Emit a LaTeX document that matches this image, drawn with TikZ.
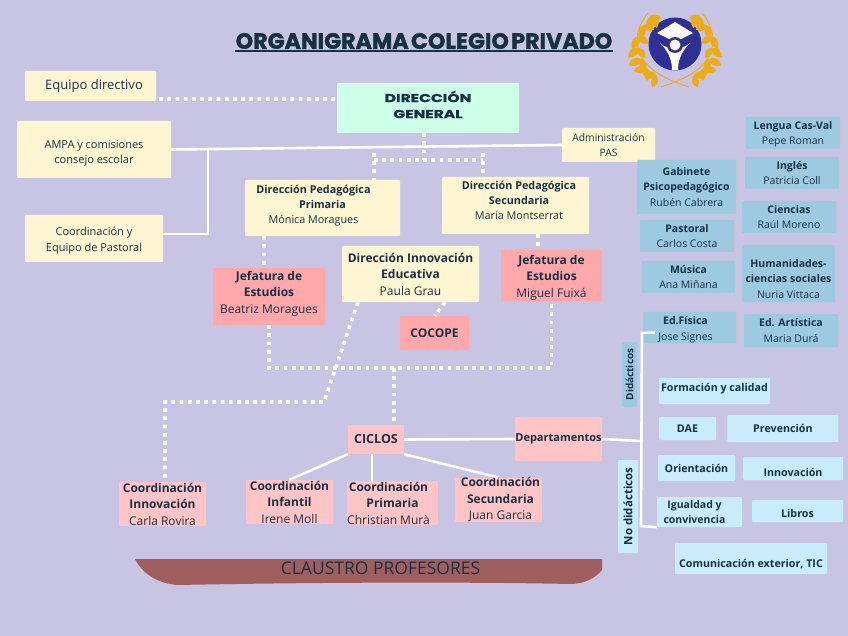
\documentclass[tikz,border=0pt]{standalone}
\usepackage{fontspec}
\setmainfont{Open Sans}
\newfontfamily\titlefont[WordSpace=0.5,BoldFeatures={FakeBold=1.6}]{Poppins}
\newfontfamily\widefont[FakeStretch=1.35,BoldFeatures={FakeBold=1.2}]{Poppins}
\usepackage{xcolor}
\usetikzlibrary{positioning,calc}
\definecolor{paperlilac}{RGB}{200,196,227}
\definecolor{inkblue}{RGB}{24,48,68}
\definecolor{creamy}{RGB}{254,246,210}
\definecolor{mintgreen}{RGB}{206,255,232}
\definecolor{salmon}{RGB}{255,168,171}
\definecolor{rosepink}{RGB}{255,196,198}
\definecolor{deptblue}{RGB}{158,202,223}
\definecolor{skyblue}{RGB}{200,236,252}
\definecolor{claustrored}{RGB}{160,94,94}
\definecolor{laurel}{RGB}{236,172,24}
\definecolor{shieldblue}{RGB}{46,48,146}
\tikzset{
  base/.style={align=center,inner sep=0pt,rounded corners=1pt,text=inkblue,
    font=\fontsize{11}{16}\selectfont},
  yellowbox/.style={base,fill=creamy},
  greenbox/.style={base,fill=mintgreen},
  redbox/.style={base,fill=salmon,font=\fontsize{12}{16.5}\selectfont},
  pinkbox/.style={base,fill=rosepink,font=\fontsize{12}{16.5}\selectfont},
  bluebox/.style={base,fill=deptblue,font=\fontsize{10.5}{15.5}\selectfont},
  skybox/.style={base,fill=skyblue,font=\fontsize{10.7}{15}\selectfont\bfseries},
  size/.style n args={2}{minimum width=#1pt,minimum height=#2pt},
  solidlink/.style={draw=white,line width=2.6pt},
  dotlink/.style={draw=white,line width=3.6pt,dash pattern=on 3.8pt off 4.4pt}
}
\newcommand{\dropdn}[1]{\rule{0pt}{\dimexpr 9pt+#1pt*2\relax}}
\newcommand{\liftup}[1]{\rule[-\dimexpr 3pt+#1pt*2\relax]{0pt}{0pt}}
\begin{document}
\begin{tikzpicture}[x=1pt,y=-1pt]
  \useasboundingbox[fill=paperlilac] (0,0) rectangle (848,636);
  % title and logo
  \node[inner sep=0pt,text=inkblue,font=\titlefont\fontsize{22.2}{24}\selectfont\bfseries] (title) at (424,41)
    {ORGANIGRAMA COLEGIO PRIVADO};
  \begin{scope}[shift={(675,44)},yscale=-1]
    \fill[shieldblue] (0,0) circle (26.5);
    \fill[white] (-18,11)--(0,22)--(18,11)--(0,2)--cycle;
    \fill[white] (-15,1) .. controls (-8,-6) and (-3,-14) .. (-3,-26) -- (3,-26)
      .. controls (3,-14) and (8,-6) .. (15,1) .. controls (9,-6) and (-9,-6) .. (-15,1) -- cycle;
    \fill[shieldblue] (0,-1) circle (8);
    \fill[white] (0,-1) circle (5.5);
    \foreach \side in {1,-1}{
      \begin{scope}[xscale=\side]
        \draw[laurel,line width=0.9pt] (-14,-43) .. controls (8,-36) and (37,-24) .. (38,3)
          .. controls (38,14) and (33,24) .. (27,31);
        \foreach \a in {-60,-42,-24,-6,12,30,46}{
          \fill[laurel,shift={(\a:37)},rotate=\a+50] (0,0) .. controls (3,5) and (9,5) .. (14,0) .. controls (9,-5) and (3,-5) .. (0,0);
          \fill[laurel,shift={(\a:37)},rotate=\a+130] (0,0) .. controls (3,4.5) and (8,4.5) .. (12,0) .. controls (8,-4.5) and (3,-4.5) .. (0,0);
        }
        \fill[laurel,shift={(55:36)},rotate=100] (0,0) .. controls (3,4.5) and (9,4.5) .. (14,0) .. controls (9,-4.5) and (3,-4.5) .. (0,0);
      \end{scope}
    }
  \end{scope}
  % left side and management
  \node[yellowbox,size={131}{30},font=\fontsize{13}{16}\selectfont] (equipo) at (90.5,86) {\hspace{7pt}Equipo directivo};
  \node[yellowbox,size={154}{57},font=\fontsize{11}{15}\selectfont] (ampa) at (94,149.5) {\dropdn{3}AMPA y comisiones\\consejo escolar};
  \node[yellowbox,size={138}{47},font=\fontsize{11}{15.5}\selectfont] (coordpast) at (94,238.5) {\dropdn{2}Coordinación y\\Equipo de Pastoral};
  \node[greenbox,size={182}{50},font=\widefont\fontsize{11.5}{16}\selectfont\bfseries] (direccion) at (428,108) {DIRECCIÓN\\GENERAL\liftup{2}};
  \node[yellowbox,size={93}{34},font=\fontsize{10.3}{15.5}\selectfont] (admin) at (608.5,145) {Administración\\PAS};
  \node[yellowbox,size={155}{56},font=\fontsize{10.8}{15}\selectfont] (pedprim) at (322.5,208) {\textbf{Dirección Pedagógica}\hspace*{18pt}\\\textbf{Primaria}\hspace*{18pt}\\Mónica Moragues\hspace*{18pt}\liftup{2}};
  \node[yellowbox,size={147}{57},font=\fontsize{10.8}{15}\selectfont] (pedsec) at (515.5,205.5) {\hspace*{7pt}\textbf{Dirección Pedagógica}\\\hspace*{7pt}\textbf{Secundaria}\\\hspace*{7pt}María Montserrat\liftup{4}};
  \node[yellowbox,size={137}{56},font=\fontsize{12}{16.5}\selectfont] (innova) at (410.5,274) {\textbf{Dirección Innovación}\\\textbf{Educativa}\\Paula Grau};
  \node[redbox,size={112}{57}] (jefprim) at (269,296.5) {\textbf{Jefatura de}\\\textbf{Estudios}\\Beatriz Moragues\liftup{3}};
  \node[redbox,size={101}{51}] (jefsec) at (551.5,275.5) {\dropdn{2}\textbf{Jefatura de}\\\textbf{Estudios}\\Miguel Fuixá};
  \node[redbox,size={69}{34}] (cocope) at (434.5,333) {\textbf{COCOPE}};
  % cycles
  \node[pinkbox,size={56}{29},font=\fontsize{12.5}{16}\selectfont\bfseries] (ciclos) at (376,439.5) {CICLOS};
  \node[pinkbox,size={87}{44},font=\fontsize{11}{15}\selectfont\bfseries] (deptos) at (558.5,439) {Departamentos};
  \node[pinkbox,size={87}{44}] (cinnova) at (162.5,504) {\textbf{Coordinación}\\\textbf{Innovación}\\Carla Rovira};
  \node[pinkbox,size={87}{44}] (cinfantil) at (289.5,502) {\textbf{Coordinación}\\\textbf{Infantil}\\Irene Moll};
  \node[pinkbox,size={87}{44}] (cprimaria) at (392.5,503) {\textbf{Coordinación}\hspace*{8pt}\\\textbf{Primaria}\hspace*{8pt}\\Christian Murà\hspace*{8pt}};
  \node[pinkbox,size={87}{44}] (csecund) at (498.5,500) {\hspace*{4pt}\textbf{Coordinación}\\\hspace*{4pt}\textbf{Secundaria}\\\hspace*{4pt}Juan Garcia};
  % departments
  \node[bluebox,size={94}{32}] (lengua) at (793,133) {\dropdn{1}\textbf{Lengua Cas-Val}\\Pepe Roman};
  \node[bluebox,size={94}{32}] (ingles) at (792,173) {\textbf{Inglés}\\Patricia Coll};
  \node[bluebox,size={94}{32}] (ciencias) at (789,217) {\textbf{Ciencias}\\Raúl Moreno};
  \node[bluebox,size={93}{57}] (humanid) at (788.5,273.5) {\dropdn{5}\textbf{Humanidades-}\\\textbf{ciencias sociales}\\Nuria Vittaca};
  \node[bluebox,size={94}{33}] (artistica) at (791,330.5) {\textbf{Ed. Artística}\\Maria Durá};
  \node[bluebox,size={99}{54}] (gabinete) at (686.5,187) {\textbf{Gabinete}\\\textbf{Psicopedagógico}\\Rubén Cabrera};
  \node[bluebox,size={94}{32}] (pastoral) at (687,236) {\textbf{Pastoral}\\Carlos Costa};
  \node[bluebox,size={93}{32}] (musica) at (688.5,277) {\textbf{Música}\\Ana Miñana};
  \node[bluebox,size={93}{31}] (fisica) at (689.5,327.5) {\dropdn{2}\textbf{Ed.Física}\hspace*{8pt}\\Jose Signes\hspace*{8pt}};
  \node[bluebox,size={65}{15},rotate=90,font=\fontsize{10}{12}\selectfont\bfseries] (didact) at (629.5,374.5) {Didácticos};
  \node[skybox,size={93}{20},rotate=90,font=\fontsize{11.5}{13}\selectfont\bfseries] (nodidact) at (628,506.5) {No didácticos};
  \node[skybox,size={111}{26}] (formacion) at (714.5,391) {Formación y calidad\liftup{2}};
  \node[skybox,size={57}{23}] (dae) at (687.5,428.5) {DAE};
  \node[skybox,size={111}{27},right=11pt of dae] (prevencion) {Prevención};
  \node[skybox,size={77}{26}] (orienta) at (696.5,468) {Orientación};
  \node[skybox,size={100}{23}] (innovdep) at (793,468.5) {\dropdn{4}Innovación};
  \node[skybox,size={85}{30},font=\fontsize{10.5}{15}\selectfont\bfseries] (igualdad) at (699.5,512) {Igualdad y\hspace*{10pt}\\convivencia\hspace*{10pt}};
  \node[skybox,size={91}{22}] (libros) at (797.5,511) {\dropdn{2}Libros};
  \node[skybox,size={152}{31}] (comunica) at (751,558.5) {\dropdn{5}Comunicación exterior, TIC};
  % staff band
  \fill[claustrored] (135,559) -- (602,559) -- (602,570) .. controls (595,578) and (585,584) .. (570,584)
    .. controls (480,582) and (330,582) .. (178,585) .. controls (160,584) and (143,575) .. (135,559) -- cycle;
  \node[inner sep=0pt,text=inkblue,font=\fontsize{17.5}{20}\selectfont] (claustro) at (380.5,568.5) {CLAUSTRO PROFESORES};
  % junctions
  \coordinate (jampa) at (208,148);
  \coordinate (jelbow) at (208,234);
  \coordinate (jdir) at (424,160);
  \coordinate (jleft) at (374,153);
  \coordinate (jright) at (483,153);
  \coordinate (jciclos) at (394,368);
  \coordinate (jinnova) at (324,402);
  \coordinate (jcoord) at (165,402);
  \coordinate (jdepto) at (640,441);
  \coordinate (jtop) at (642,333);
  \coordinate (jbot) at (641,526);
  % connectors
  \draw[solidlink] (ampa.east)--(admin.west);
  \draw[solidlink] (coordpast.east|-jelbow)--(jelbow)--(jampa);
  \draw[solidlink] (ciclos.east)--(deptos.west);
  \draw[solidlink] (deptos.east)--(jdepto);
  \draw[solidlink] (fisica.west)++(12,5)--(jtop)--(jbot)--(igualdad.south west);
  \draw[solidlink] (ciclos.south west)--(cinfantil.north);
  \draw[solidlink] (ciclos.south west-|372,0)--(cprimaria.north west-|372,0);
  \draw[solidlink] (ciclos.south east)--(csecund.north);
  \draw[dotlink] (equipo.south east)++(3,-2)--(direccion.west|-99,99);
  \draw[dotlink] (direccion.south-|424,0)--(jdir);
  \draw[dotlink] (jleft|-jdir)--(jright|-jdir);
  \draw[dotlink] (jleft)--(pedprim.north-|jleft);
  \draw[dotlink] (jright)--(pedsec.north-|jright);
  \draw[dotlink] (pedprim.south-|264,0)--(jefprim.north-|264,0);
  \draw[dotlink] (pedsec.south-|538,0)--(jefsec.north-|538,0);
  \draw[dotlink] (innova.south-|358,0)--(jinnova)--(jcoord)--(cinnova.north-|165,0);
  \draw[dotlink] (innova.south-|445,0)--(cocope.north-|435,0);
  \draw[dotlink] (jefprim.south)--(jefprim.south|-jciclos)--(jefsec.south|-jciclos)--(jefsec.south);
  \draw[dotlink] (jciclos)--(ciclos.north-|394,0);
  % title rule
  \draw[inkblue,line width=1.3pt] (235,51)--(613,51);
\end{tikzpicture}
\end{document}
